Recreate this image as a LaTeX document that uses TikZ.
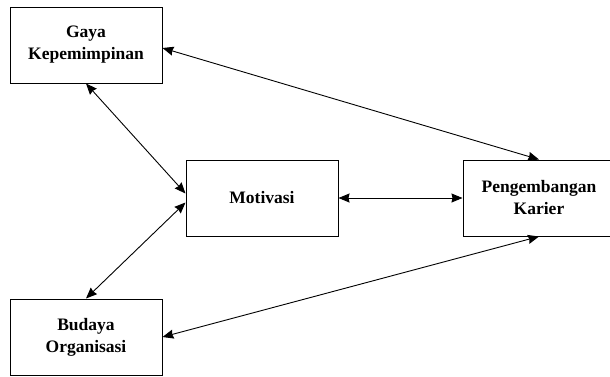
\documentclass[tikz,border=0pt]{standalone}
\usepackage{fontspec}
\setmainfont{Liberation Serif}
\usetikzlibrary{arrows.meta}

\begin{document}
\begin{tikzpicture}[x=1pt,y=-1pt,
 varbox/.style={draw=black,rectangle,line width=1pt,minimum width=152pt,minimum height=76pt,align=center,fill=white,inner sep=2pt},
 relation/.style={{Stealth[length=11pt,width=9pt,inset=1pt]}-{Stealth[length=11pt,width=9pt,inset=1pt]},black,line width=0.9pt},
 every node/.style={font=\fontsize{17.5}{22}\selectfont\bfseries}]
\useasboundingbox (0,0) rectangle (610,376);
\node[varbox] (gaya) at (86,45) {Gaya\\Kepemimpinan};
\node[varbox] (motivasi) at (262,198) {Motivasi};
\node[varbox] (karier) at (539,198) {Pengembangan\\Karier};
\node[varbox] (budaya) at (86,337) {Budaya\\Organisasi};
\draw[relation] (gaya.south) -- ([yshift=4.5pt]motivasi.west);
\draw[relation] (budaya.north) -- ([yshift=-4.5pt]motivasi.west);
\draw[relation] (motivasi.east) -- (karier.west);
\draw[relation] ([yshift=-3pt]gaya.east) -- (karier.north);
\draw[relation] (budaya.east) -- (karier.south);
\end{tikzpicture}
\end{document}
